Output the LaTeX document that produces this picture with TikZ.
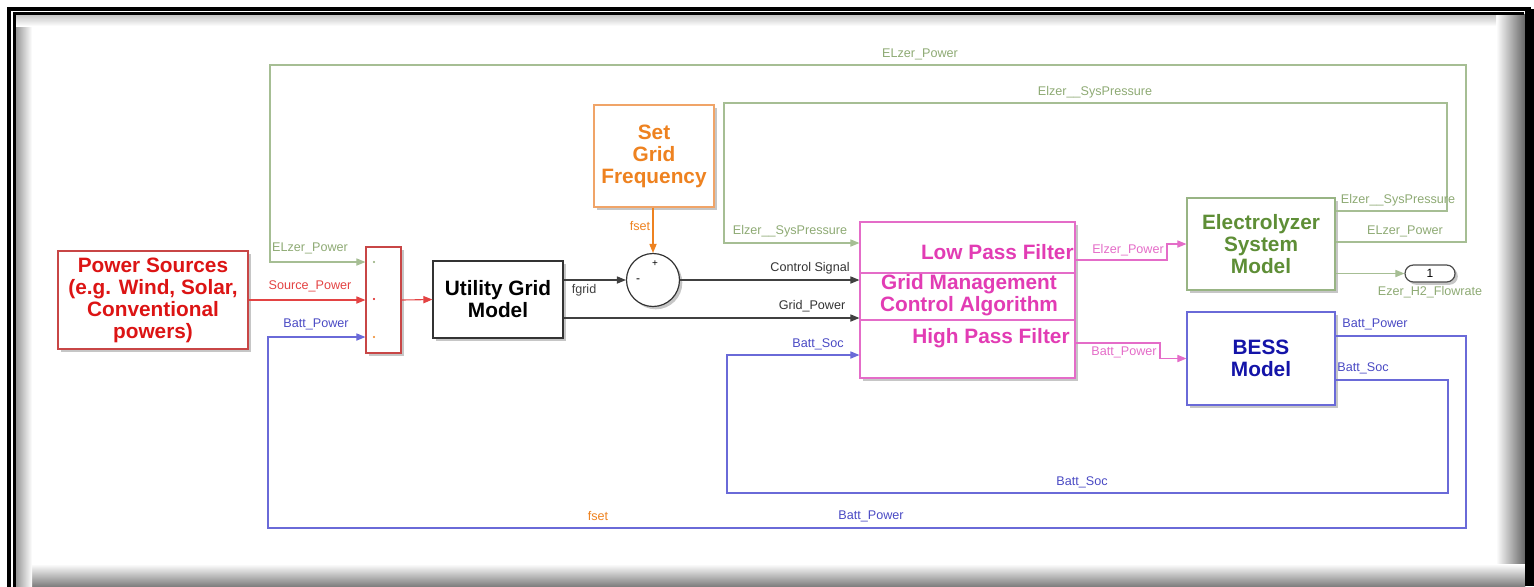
\documentclass[tikz,border=0pt]{standalone}
\usepackage{fontspec}
\setmainfont{Liberation Sans}[BoldFont={Liberation Sans Bold}]
\usetikzlibrary{arrows.meta, positioning, shadows, calc}
\definecolor{PsRed}{HTML}{DC1414}
\definecolor{PsEdge}{HTML}{C84646}
\definecolor{SgfOrange}{HTML}{EE8220}
\definecolor{SgfEdge}{HTML}{F0A468}
\definecolor{PkText}{HTML}{E23CB4}
\definecolor{PkEdge}{HTML}{E46CC8}
\definecolor{ElText}{HTML}{5E8E36}
\definecolor{ElEdge}{HTML}{98B484}
\definecolor{GrLine}{HTML}{A6BE94}
\definecolor{GrLabel}{HTML}{8EAA74}
\definecolor{BsText}{HTML}{1414A8}
\definecolor{BlLine}{HTML}{6A6AD8}
\definecolor{BlLabel}{HTML}{4A4AC4}

\begin{document}
\begin{tikzpicture}[
    x=0.5pt, y=-0.5pt,
    blk/.style={
      draw,
      fill=white,
      line width=0.6pt,
      align=center,
      inner sep=0pt,
      font=\fontsize{10.4}{11}\selectfont\bfseries,
      drop shadow={shadow xshift=1.4pt, shadow yshift=-1.4pt, opacity=0.45},
    },
    lbl/.style={font=\fontsize{6.3}{7}\selectfont, inner sep=0.5pt},
    sig/.style={line width=0.55pt, -{Triangle[length=4.5pt,width=3.6pt]}},
  ]
    \useasboundingbox (0,0) rectangle (1534,586);

    % frame round the model
    \shade[left color=white, right color=black!60] (1496,14) rectangle (1525,586);
    \shade[top color=white, bottom color=black!50] (16,564) rectangle (1525,586);
    \shade[left color=black!40, right color=white] (16,14) rectangle (32,586);
    \shade[top color=black!25, bottom color=white] (16,14) rectangle (1496,26);
    \fill[black] (1525,9) rectangle (1534,586);
    \draw[line width=2pt] (9,600) -- (9,9) -- (1531,9);
    \draw[line width=1.2pt] (14.5,600) -- (14.5,13.5) -- (1524,13.5);

    % blocks
    \node[blk, draw=PsEdge, text=PsRed, minimum width=95pt, minimum height=49pt]
      (src) at (153,300) {Power Sources\\(e.g. Wind, Solar,\\Conventional\\powers)};
    \node[blk, draw=PsEdge, minimum width=17.5pt, minimum height=53pt] (mux) at (383.5,300) {};
    \node[blk, draw=black!80, text=black, minimum width=65pt, minimum height=38.5pt]
      (ugm) at (498,299.5) {Utility Grid\\Model};
    \node[blk, draw=SgfEdge, text=SgfOrange, minimum width=60pt, minimum height=51pt]
      (sgf) at (654,156) {Set\\Grid\\Frequency};
    \node[blk, circle, draw=black!80, minimum size=26.5pt] (sum) at (653,280) {};
    \node[blk, draw=PkEdge, minimum width=107.5pt, minimum height=78pt] (gmc) at (967.5,300) {};
    \node[blk, draw=ElEdge, text=ElText, minimum width=74pt, minimum height=46pt]
      (elz) at (1261,244) {Electrolyzer\\System\\Model};
    \node[blk, draw=BlLine, text=BsText, minimum width=74pt, minimum height=46.5pt]
      (bess) at (1261,358.5) {BESS\\Model};
    \node[blk, draw=black!70, rounded corners=4.2pt, minimum width=25pt, minimum height=8.5pt,
      font=\fontsize{6}{6}\selectfont] (h2out) at (1430,273.5) {1};

    % inside the mux and the sum
    \foreach \py/\pc in {262/GrLabel, 299/PsRed, 337/SgfOrange}
      \fill[\pc] (374,\py) circle (1.2);
    \node[lbl, font=\fontsize{5}{5}\selectfont] (sumplus) at (655,264) {+};
    \node[lbl, font=\fontsize{6}{6}\selectfont] (summinus) at (638,281) {-};

    % sections of the control block
    \draw[PkEdge, line width=0.8pt] (gmc.west |- 0,273) -- (gmc.east |- 0,273);
    \draw[PkEdge, line width=0.8pt] (gmc.west |- 0,320) -- (gmc.east |- 0,320);
    \node[font=\fontsize{10.4}{11}\selectfont\bfseries, text=PkText, anchor=east, inner sep=0pt]
      (lpf) at (1074,252) {Low Pass Filter};
    \node[font=\fontsize{10.4}{11}\selectfont\bfseries, text=PkText, align=center, inner sep=0pt]
      (gma) at (969,295) {Grid Management\\Control Algorithm};
    \node[font=\fontsize{10.4}{11}\selectfont\bfseries, text=PkText, anchor=east, inner sep=0pt]
      (hpf) at (1070,338) {High Pass Filter};

    % signals
    \draw[sig, PsRed!80] (src.east) -- (mux.west);
    \draw[sig, PsRed!80] (mux.east) -- (ugm.west);
    \draw[sig, black!75] (ugm.east |- sum.west) -- (sum.west);
    \draw[sig, SgfOrange] (sgf.south -| sum.north) -- (sum.north);
    \draw[sig, black!75] (sum.east) -- (gmc.west |- sum.east);
    \draw[sig, black!75] (ugm.east |- 0,318) -- (gmc.west |- 0,318);
    \draw[sig, PkEdge] (gmc.east |- 0,260) -- (1167,260) |- (elz.west);
    \draw[sig, PkEdge] (gmc.east |- 0,343) -- (1160,343) |- (bess.west);
    \draw[sig, GrLine] (elz.east |- h2out.west) -- (h2out.west);
    \draw[sig, GrLine] (elz.east |- 0,211) -- (1447,211) -- (1447,103) -- (724,103) |- (gmc.west |- 0,243);
    \draw[sig, GrLine] (elz.east |- 0,242) -- (1466,242) -- (1466,65) -- (270,65) |- (mux.west |- 0,262);
    \draw[sig, BlLine] (bess.east |- 0,336) -- (1466,336) -- (1466,528) -- (268,528) |- (mux.west |- 0,337);
    \draw[sig, BlLine] (bess.east |- 0,380) -- (1448,380) -- (1448,493) -- (727,493) |- (gmc.west |- 0,355);

    % signal names
    \node[lbl, text=GrLabel] (l1) at (310,248) {ELzer\_Power};
    \node[lbl, text=PsRed!80] (l2) at (310,286) {Source\_Power};
    \node[lbl, text=BlLabel] (l3) at (316,324) {Batt\_Power};
    \node[lbl, text=GrLabel] (l4) at (920,54) {ELzer\_Power};
    \node[lbl, text=GrLabel] (l5) at (1095,92) {Elzer\_\_SysPressure};
    \node[lbl, text=GrLabel] (l6) at (790,231) {Elzer\_\_SysPressure};
    \node[lbl, text=GrLabel] (l7) at (1398,200) {Elzer\_\_SysPressure};
    \node[lbl, text=GrLabel] (l8) at (1405,231) {ELzer\_Power};
    \node[lbl, text=GrLabel, below=1pt of h2out] (l9) {Ezer\_H2\_Flowrate};
    \node[lbl, text=SgfOrange] (l10) at (640,226) {fset};
    \node[lbl, text=black!75] (l11) at (584,290) {fgrid};
    \node[lbl, text=black!80] (l12) at (810,268) {Control Signal};
    \node[lbl, text=black!80] (l13) at (812,306) {Grid\_Power};
    \node[lbl, text=BlLabel] (l14) at (818,344) {Batt\_Soc};
    \node[lbl, text=PkEdge] (l15) at (1128,250) {Elzer\_Power};
    \node[lbl, text=PkEdge] (l16) at (1124,352) {Batt\_Power};
    \node[lbl, text=BlLabel] (l17) at (1375,324) {Batt\_Power};
    \node[lbl, text=BlLabel] (l18) at (1363,368) {Batt\_Soc};
    \node[lbl, text=BlLabel] (l19) at (1082,482) {Batt\_Soc};
    \node[lbl, text=BlLabel] (l20) at (871,516) {Batt\_Power};
    \node[lbl, text=SgfOrange] (l21) at (598,516) {fset};
  \end{tikzpicture}
\end{document}
